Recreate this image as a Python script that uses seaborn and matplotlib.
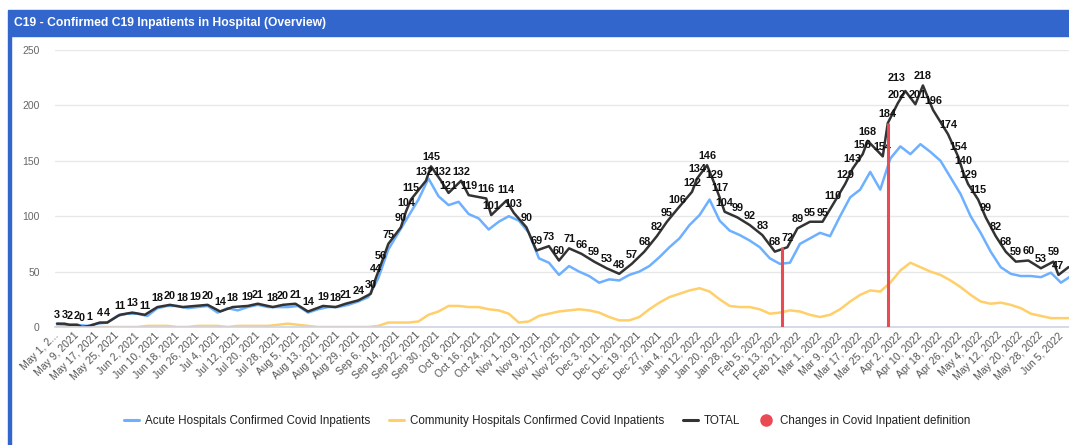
import numpy as np
import pandas as pd
import matplotlib
matplotlib.use("Agg")
import matplotlib.pyplot as plt
from matplotlib.lines import Line2D
from matplotlib.patches import Rectangle
import seaborn as sns

# ------------------------------------------------------------------
# data
# ------------------------------------------------------------------
start = pd.Timestamp("2021-05-01")

# TOTAL: day offset from May 1, 2021 and labelled value
total_days = [0, 3, 5, 8, 10, 13, 17, 20, 25, 30, 35, 40, 45, 50, 55, 60, 65, 70, 76, 80,
              86, 90, 95, 100, 106, 111, 115, 120, 125, 127, 129, 132, 137, 139, 141, 147, 149, 153, 156, 161,
              164, 171, 173, 179, 182, 187, 191, 196, 200, 204, 209, 214, 219, 224, 229, 234, 239, 243, 247, 253,
              255, 259, 262, 264, 266, 271, 276, 281, 286, 291, 295, 300, 305, 309, 314, 317, 321, 323, 329, 331,
              335, 338, 342, 345, 349, 355, 359, 361, 363, 367, 370, 374, 378, 382, 387, 392, 397, 399, 403]
total_vals = [3, 3, 2, 2, 0, 1, 4, 4, 11, 13, 11, 18, 20, 18, 19, 20, 14, 18, 19, 21,
              18, 20, 21, 14, 19, 18, 21, 24, 30, 44, 56, 75, 90, 104, 115, 132, 145, 132, 121, 132,
              119, 116, 101, 114, 103, 90, 69, 73, 60, 71, 66, 59, 53, 48, 57, 68, 82, 95, 106, 122,
              134, 146, 129, 117, 104, 99, 92, 83, 68, 72, 89, 95, 95, 110, 129, 143, 156, 168, 154, 184,
              202, 213, 201, 218, 196, 174, 154, 140, 129, 115, 99, 82, 68, 59, 60, 53, 59, 47, 54]

# acute and community hospitals, one reading every 4 days from May 1, 2021
acute_vals = [3, 2, 2, 1, 3, 4, 10, 12, 12, 10, 17, 19, 19, 17, 18, 19, 13, 17, 15, 18,
              20, 18, 18, 18, 19, 13,
              16, 18, 18, 20, 23, 27, 44, 70, 85, 100, 115, 134, 118, 110, 113, 102, 98, 88, 95, 100,
              96, 85, 62, 58, 47,
              55, 50, 46, 40, 43, 42, 47, 50, 55, 63, 72, 80, 92, 101, 115, 96, 87, 83, 78, 72,
              62, 57, 58, 75, 80,
              85, 82, 100, 117, 124, 140, 124, 152, 163, 156, 165, 158, 150, 135, 120, 100, 85, 68, 54, 48,
              46, 46, 45, 49, 40, 46]
community_vals = [1, 1, 0, 0, 0, 0, 0, 0, 0, 1, 1, 1, 0, 0, 1, 1, 1, 0, 1, 1,
                  1, 1, 2, 3, 2, 1,
                  0, 0, 0, 0, 0, 0, 1, 4, 4, 4, 5, 11, 14, 19, 19, 18, 18, 16, 15, 12,
                  4, 5, 10, 12, 14,
                  15, 16, 15, 13, 9, 6, 6, 9, 16, 22, 27, 30, 33, 35, 32, 25, 19, 18, 18, 16,
                  12, 13, 15, 14, 11,
                  9, 11, 16, 23, 29, 33, 32, 40, 51, 58, 54, 50, 47, 42, 36, 29, 23, 21, 22, 20,
                  17, 12, 10, 8, 8, 8]

# changes in covid inpatient definition
change_days = [289, 331]
change_vals = [72, 184]

series_names = ["Acute Hospitals Confirmed Covid Inpatients",
                "Community Hospitals Confirmed Covid Inpatients",
                "TOTAL",
                "Changes in Covid Inpatient definition"]
title = "C19 - Confirmed C19 Inpatients in Hospital (Overview)"

assert len(total_days) == len(total_vals)
assert len(acute_vals) == len(community_vals)

# small pixel nudges for crowded data labels (index into total lists)
label_nudge = {34: (0, 2), 35: (-2, 0), 37: (1, 0), 38: (0, -2), 43: (0, 2),
               80: (-1, -1), 81: (-9, 4), 82: (2, 0), 87: (0, 2)}

# ------------------------------------------------------------------
# frames
# ------------------------------------------------------------------
def to_dates(days):
    return start + pd.to_timedelta(np.asarray(days), unit="D")

step_dates = to_dates(np.arange(len(acute_vals)) * 4)
df_total = pd.DataFrame({"date": to_dates(total_days), "value": total_vals})
df_acute = pd.DataFrame({"date": step_dates, "value": acute_vals})
df_comm = pd.DataFrame({"date": step_dates, "value": community_vals})

c_acute = "#6cb0ff"
c_comm = "#ffcf6a"
c_total = "#333333"
c_red = "#ea4a52"

sns.set_style("white")
plt.rcParams['font.family'] = ['Liberation Sans', 'DejaVu Sans']

W, H = 1069, 445
fig = plt.figure(figsize=(W / 100, H / 100), dpi=100)

# panel header + left border
fig.patches.append(Rectangle((8 / W, 1 - 36 / H), 1, 26 / H, transform=fig.transFigure,
                             color="#3366cc", zorder=0))
fig.patches.append(Rectangle((8 / W, 0), 2.5 / W, 1 - 36 / H, transform=fig.transFigure,
                             color="#3366cc", zorder=0))
fig.text(14 / W, 1 - 23 / H, title, color="white", weight="bold", fontsize=8.7, va="center")

ax = fig.add_axes([55 / W, 1 - 327 / H, 1 - 55 / W, 277 / H])

sns.lineplot(data=df_comm, x="date", y="value", color=c_comm, linewidth=1.8, ax=ax)
sns.lineplot(data=df_acute, x="date", y="value", color=c_acute, linewidth=1.8, ax=ax)
sns.lineplot(data=df_total, x="date", y="value", color=c_total, linewidth=1.8, ax=ax)
ax.vlines(to_dates(change_days), 0, change_vals, color=c_red, linewidth=2.2, zorder=5)

for i, (d, v) in enumerate(zip(df_total["date"][:-1], df_total["value"][:-1])):
    dx, dy = label_nudge.get(i, (0, 0))
    ax.annotate(str(v), (d, v), xytext=(dx * 0.72, 3 + dy * 0.72), textcoords="offset points",
                ha="center", va="bottom", fontsize=7.8, weight="bold", color="#111111")

# axes styling
ax.set_ylim(0, 250)
ax.set_xlim(start - pd.Timedelta(days=0.8), start + pd.Timedelta(days=403.2))
ax.set_yticks([0, 50, 100, 150, 200, 250])
ax.tick_params(axis="y", length=0, pad=11, labelsize=7.5, labelcolor="#666666")
ax.grid(axis="y", color="#e8e8e8", linewidth=1)
ax.set_axisbelow(True)
for s in ["top", "right", "left"]:
    ax.spines[s].set_visible(False)
ax.spines["bottom"].set_color("#cfd3e6")
ax.spines["bottom"].set_linewidth(1.2)

tick_dates = pd.date_range(start, "2022-06-05", freq="8D")
tick_labels = [f"{d:%b} {d.day}, {d.year}" for d in tick_dates]
tick_labels[0] = "May 1, 2..."
ax.set_xticks(tick_dates)
ax.set_xticklabels(tick_labels, rotation=45, ha="right", va="center",
                   rotation_mode="anchor", fontsize=7.5, color="#555555")
ax.tick_params(axis="x", length=0, pad=5)
ax.set_xlabel("")
ax.set_ylabel("")

handles = [Line2D([], [], color=c_acute, lw=2.2),
           Line2D([], [], color=c_comm, lw=2.2),
           Line2D([], [], color=c_total, lw=2.2),
           Line2D([], [], color=c_red, lw=0, marker="o", markersize=8)]
fig.legend(handles, series_names, loc="center", bbox_to_anchor=(547 / W, 1 - 421 / H),
           ncol=4, frameon=False, fontsize=8.4, handlelength=1.3, handletextpad=0.5,
           columnspacing=1.6, labelcolor="#222222")

fig.savefig("out.png", dpi=100)
